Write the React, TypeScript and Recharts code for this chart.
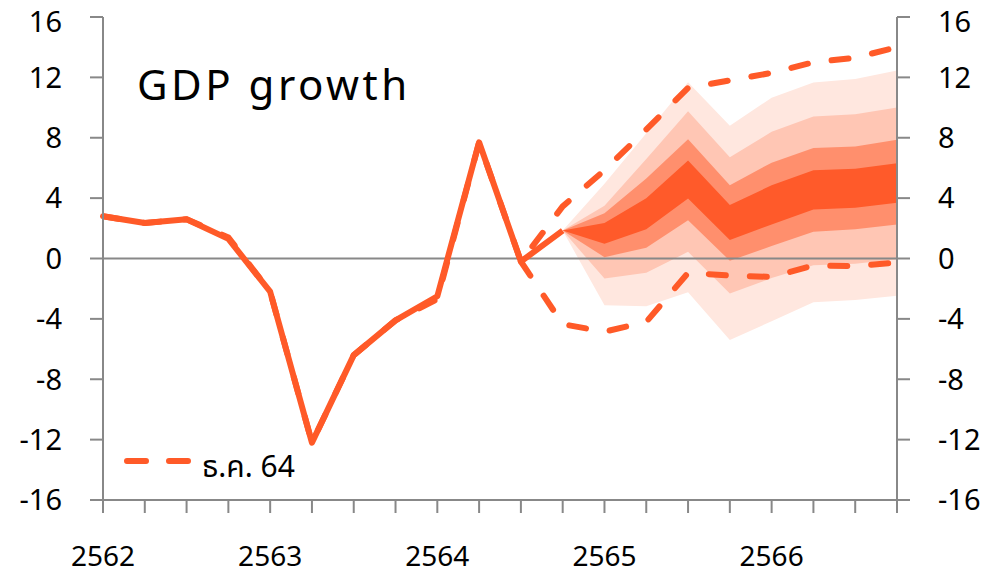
import React from "react";
import { ComposedChart, Line, Area, XAxis, YAxis, ReferenceLine } from "recharts";

// quarters 2562Q1 .. 2566Q4
const quarters = [
  "2562Q1", "2562Q2", "2562Q3", "2562Q4",
  "2563Q1", "2563Q2", "2563Q3", "2563Q4",
  "2564Q1", "2564Q2", "2564Q3", "2564Q4",
  "2565Q1", "2565Q2", "2565Q3", "2565Q4",
  "2566Q1", "2566Q2", "2566Q3", "2566Q4",
];
const yearLabels = ["2562", "", "", "", "2563", "", "", "", "2564", "", "", "", "2565", "", "", "", "2566", "", "", ""];

// actual GDP growth (history)
const actual = [2.8, 2.35, 2.6, 1.3, -2.2, -12.2, -6.4, -4.1, -2.5, 7.7, -0.2, 1.85];

// previous forecast (ธ.ค. 64): history + upper / lower bound
const prevUpper = [2.8, 2.35, 2.6, 1.4, -2.2, -12.2, -6.4, -4.1, -2.7, 7.7, -0.2, 3.45, 5.85, 8.55, 11.3, 11.8, 12.3, 13.0, 13.3, 14.0];
const prevLower = [null, null, null, null, null, null, null, null, null, null, -0.2, -4.35, -4.85, -4.2, -0.95, -1.13, -1.22, -0.46, -0.5, -0.27];

// fan chart bands, starting from 2564Q4 (index 11)
const fanStart = 11;
const outerHigh = [1.85, 4.95, 8.3, 11.67, 8.8, 10.65, 11.66, 11.9, 12.45];
const band2High = [1.85, 3.5, 6.6, 9.75, 6.7, 8.4, 9.4, 9.55, 10.0];
const band3High = [1.85, 3.0, 5.3, 7.9, 4.85, 6.35, 7.32, 7.42, 7.86];
const darkHigh = [1.85, 2.35, 4.0, 6.5, 3.55, 4.85, 5.84, 5.95, 6.31];
const darkLow = [1.85, 0.98, 1.93, 3.98, 1.22, 2.26, 3.25, 3.36, 3.7];
const band3Low = [1.85, 0.09, 0.71, 2.54, -0.15, 0.82, 1.77, 1.93, 2.26];
const band2Low = [1.85, -1.33, -0.95, 0.44, -2.32, -1.3, -0.45, -0.35, -0.05];
const outerLow = [1.85, -3.1, -3.17, -2.24, -5.4, -4.16, -2.9, -2.75, -2.46];

const yTicks = [-16, -12, -8, -4, 0, 4, 8, 12, 16];

const range = (lo: number[], hi: number[], i: number) => {
  const k = i - fanStart;
  return k >= 0 && k < lo.length ? [lo[k], hi[k]] : null;
};

const data = quarters.map((q, i) => ({
  q,
  label: yearLabels[i],
  actual: i < actual.length ? actual[i] : null,
  prevUpper: prevUpper[i],
  prevLower: prevLower[i],
  outer: range(outerLow, outerHigh, i),
  band2: range(band2Low, band2High, i),
  band3: range(band3Low, band3High, i),
  dark: range(darkLow, darkHigh, i),
}));

const ORANGE = "#FF5A28";
const AXIS = "#888888";
const FONT = "'Noto Sans', 'Noto Sans Thai', Tahoma, sans-serif";
const YFS = 29;

const XTick = (props: any) => {
  const { x, y, index } = props;
  const label = yearLabels[index];
  if (!label) return null;
  return (
    <text x={x} y={y + 31} dy="0.71em" textAnchor="middle" fontSize={28} fontFamily={FONT} fill="#000">
      {label}
    </text>
  );
};

// y tick label, kept inside the picture at the top edge
const YTick = (props: any) => {
  const { x, y, payload, textAnchor } = props;
  const baseline = Math.max(y + 0.357 * YFS, 1.07 * YFS + 1);
  return (
    <text x={x} y={baseline} textAnchor={textAnchor} fontSize={YFS} fontFamily={FONT} fill="#000">
      {payload.value}
    </text>
  );
};

export default function App() {
  return (
    <div style={{ position: "absolute", left: 0, top: 0, width: 989, height: 574, background: "#fff" }}>
      <ComposedChart width={989} height={574} data={data} margin={{ top: 17, right: 0, left: 0, bottom: 0 }}>
        <XAxis
          dataKey="q"
          scale="point"
          padding={{ left: 0, right: 0 }}
          interval={0}
          tickSize={13}
          height={74}
          stroke={AXIS}
          strokeWidth={2}
          tick={<XTick />}
          tickLine={{ stroke: AXIS, strokeWidth: 2 }}
        />
        <YAxis
          yAxisId="l"
          domain={[-16, 16]}
          ticks={yTicks}
          width={103}
          tickSize={13}
          tickMargin={28}
          stroke={AXIS}
          strokeWidth={2}
          tick={<YTick />}
        />
        <YAxis
          yAxisId="r"
          orientation="right"
          domain={[-16, 16]}
          ticks={yTicks}
          width={92}
          tickSize={13}
          tickMargin={28}
          stroke={AXIS}
          strokeWidth={2}
          tick={<YTick />}
        />
        <Area yAxisId="l" type="linear" dataKey="outer" stroke="none" fill="#FFE7DF" fillOpacity={1} isAnimationActive={false} dot={false} activeDot={false} />
        <Area yAxisId="l" type="linear" dataKey="band2" stroke="none" fill="#FFC6B4" fillOpacity={1} isAnimationActive={false} dot={false} activeDot={false} />
        <Area yAxisId="l" type="linear" dataKey="band3" stroke="none" fill="#FF8F6D" fillOpacity={1} isAnimationActive={false} dot={false} activeDot={false} />
        <Area yAxisId="l" type="linear" dataKey="dark" stroke="none" fill="#FF5A2A" fillOpacity={1} isAnimationActive={false} dot={false} activeDot={false} />
        <ReferenceLine yAxisId="l" y={0} stroke={AXIS} strokeWidth={2} />
        {/* hidden series so the right axis gets drawn */}
        <Line yAxisId="r" type="linear" dataKey="prevUpper" stroke="none" dot={false} activeDot={false} isAnimationActive={false} legendType="none" />
        <Line yAxisId="l" type="linear" dataKey="prevUpper" stroke={ORANGE} strokeWidth={6} strokeDasharray="17 24" strokeLinecap="round" dot={false} activeDot={false} isAnimationActive={false} />
        <Line yAxisId="l" type="linear" dataKey="prevLower" stroke={ORANGE} strokeWidth={6} strokeDasharray="17 24" strokeLinecap="round" dot={false} activeDot={false} isAnimationActive={false} />
        <Line yAxisId="l" type="linear" dataKey="actual" stroke={ORANGE} strokeWidth={6} strokeLinejoin="round" dot={false} activeDot={false} isAnimationActive={false} />
      </ComposedChart>
      <svg width={989} height={574} style={{ position: "absolute", left: 0, top: 0, pointerEvents: "none" }}>
        <text x={137} y={100} fontSize={42} letterSpacing={3.5} fontFamily={FONT} fill="#000">
          GDP growth
        </text>
        <line x1={127} y1={461} x2={190} y2={461} stroke={ORANGE} strokeWidth={6} strokeDasharray="19 23" strokeLinecap="round" />
        <text x={202} y={477} fontSize={30} fontFamily={FONT} fill="#000">
          ธ.ค. 64
        </text>
      </svg>
    </div>
  );
}
